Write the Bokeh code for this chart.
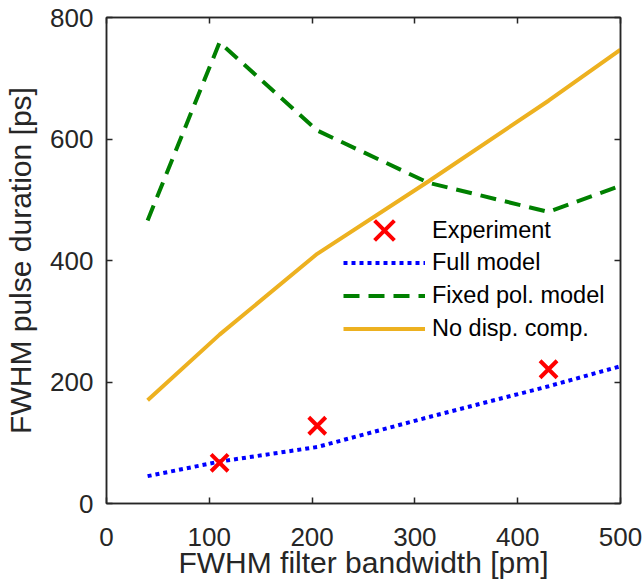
from bokeh.plotting import figure
from bokeh.models import LinearAxis, Legend, LegendItem, FixedTicker, Range1d
from bokeh.embed import file_html
from bokeh.resources import INLINE

# Data
x_model = [40, 110, 205, 313, 430, 500]
full_model = [45, 69, 93, 142, 193, 226]
fixed_pol = [466, 759, 614, 528, 480, 523]
no_disp = [170, 278, 411, 530, 663, 747]
x_exp = [110, 205, 430]
y_exp = [67, 128, 221]
x_ticks = [0, 100, 200, 300, 400, 500]
y_ticks = [0, 200, 400, 600, 800]

FONT = "Liberation Sans"
AX = "#262626"

p = figure(width=644, height=582, output_backend="svg", toolbar_location=None,
           x_range=Range1d(0, 500), y_range=Range1d(0, 800),
           min_border_left=106, min_border_right=24, min_border_top=17, min_border_bottom=79,
           x_axis_label="FWHM filter bandwidth [pm]", y_axis_label="FWHM pulse duration [ps]")
p.grid.visible = False
p.outline_line_color = AX
p.outline_line_width = 1.5
p.background_fill_color = "white"
p.border_fill_color = "white"

for ax, ticks in ((p.xaxis[0], x_ticks), (p.yaxis[0], y_ticks)):
    ax.ticker = FixedTicker(ticks=ticks)
    ax.major_tick_in = 6
    ax.major_tick_out = 0
    ax.minor_tick_line_color = None
    ax.axis_line_color = AX
    ax.axis_line_width = 1.5
    ax.major_tick_line_color = AX
    ax.major_tick_line_width = 1.5
    ax.major_label_text_font = FONT
    ax.major_label_text_font_size = "26px"
    ax.major_label_text_color = AX
    ax.axis_label_text_font = FONT
    ax.axis_label_text_font_size = "30px"
    ax.axis_label_text_font_style = "normal"
    ax.axis_label_text_color = AX

p.xaxis[0].major_label_standoff = 24
p.xaxis[0].axis_label_standoff = -3
p.yaxis[0].major_label_standoff = 13
p.yaxis[0].axis_label_standoff = 10

# Box ticks on top and right (no labels)
for loc, ticks in (("above", x_ticks), ("right", y_ticks)):
    a = LinearAxis(ticker=FixedTicker(ticks=ticks))
    a.major_tick_in = 6
    a.major_tick_out = 0
    a.minor_tick_line_color = None
    a.axis_line_color = AX
    a.axis_line_width = 1.5
    a.major_tick_line_color = AX
    a.major_tick_line_width = 1.5
    a.major_label_text_font_size = "1px"
    a.major_label_text_color = None
    a.major_label_standoff = 0
    p.add_layout(a, loc)

r_full = p.line(x_model, full_model, line_color="#0000FF", line_width=4,
                line_dash="4 4", line_cap="butt")
r_fixed = p.line(x_model, fixed_pol, line_color="#008000", line_width=4,
                 line_dash="16 9", line_cap="butt")
r_nodisp = p.line(x_model, no_disp, line_color="#EDB120", line_width=4)
r_exp = p.scatter(x_exp, y_exp, marker="x", size=24, line_color="#FF0000", line_width=4)


def style_legend(lg):
    lg.background_fill_alpha = 0
    lg.border_line_color = None
    lg.padding = 0
    lg.margin = 0
    lg.spacing = 0
    lg.glyph_width = 82
    lg.label_standoff = 7
    lg.label_text_font = FONT
    lg.label_text_font_size = "23.5px"
    lg.label_text_color = "black"


legend1 = Legend(items=[LegendItem(label="Experiment", renderers=[r_exp])],
                 location=(237, 238))
style_legend(legend1)
legend1.glyph_height = 70
legend1.label_height = 70

legend2 = Legend(items=[
    LegendItem(label="Full model", renderers=[r_full]),
    LegendItem(label="Fixed pol. model", renderers=[r_fixed]),
    LegendItem(label="No disp. comp.", renderers=[r_nodisp]),
], location=(237, 158))
style_legend(legend2)
legend2.glyph_height = 33
legend2.label_height = 33

p.add_layout(legend1, "center")
p.add_layout(legend2, "center")

open("out.html", "w").write(file_html(p, INLINE))
